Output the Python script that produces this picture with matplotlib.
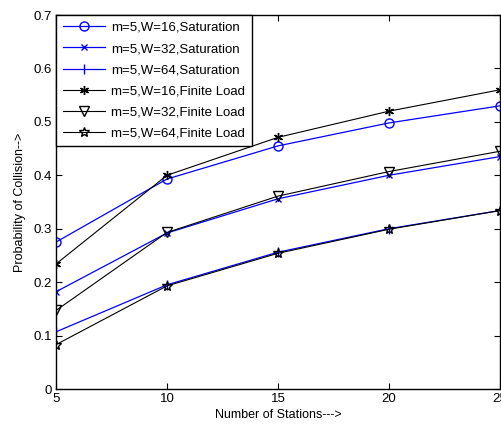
import matplotlib
matplotlib.use("Agg")
import matplotlib.pyplot as plt

plt.rcParams['font.family'] = ['Liberation Sans', 'DejaVu Sans']

stations = [5, 10, 15, 20, 25]
sat_w16 = [0.275, 0.393, 0.455, 0.498, 0.530]
sat_w32 = [0.182, 0.292, 0.356, 0.400, 0.435]
sat_w64 = [0.107, 0.195, 0.256, 0.300, 0.334]
fin_w16 = [0.234, 0.400, 0.471, 0.520, 0.560]
fin_w32 = [0.147, 0.293, 0.361, 0.407, 0.445]
fin_w64 = [0.083, 0.193, 0.254, 0.299, 0.334]

labels = ["m=5,W=16,Saturation", "m=5,W=32,Saturation", "m=5,W=64,Saturation",
          "m=5,W=16,Finite Load", "m=5,W=32,Finite Load", "m=5,W=64,Finite Load"]

blue = "#0000ff"
asterisk = (6, 2, 0)

fig = plt.figure(figsize=(5.01, 4.26), dpi=100)
ax = fig.add_axes([56 / 501, 1 - 389 / 426, 444 / 501, 374 / 426])

ax.plot(stations, sat_w16, color=blue, lw=0.9, marker="o", ms=6.5, mfc="none", mec=blue, label=labels[0])
ax.plot(stations, sat_w32, color=blue, lw=0.9, marker="x", ms=4, mec=blue, label=labels[1])
ax.plot(stations, sat_w64, color=blue, lw=0.9, marker="|", ms=6.5, mec=blue, label=labels[2])
ax.plot(stations, fin_w16, color="black", lw=0.8, marker=asterisk, ms=6.5, mec="black", label=labels[3])
ax.plot(stations, fin_w32, color="black", lw=0.8, marker="v", ms=7, mfc="none", mec="black", label=labels[4])
ax.plot(stations, fin_w64, color="black", lw=0.8, marker="*", ms=7, mfc="none", mec="black", label=labels[5])

ax.set_xlim(5, 25)
ax.set_ylim(0, 0.7)
ax.set_xticks([5, 10, 15, 20, 25])
ax.set_yticks([0, 0.1, 0.2, 0.3, 0.4, 0.5, 0.6, 0.7])
ax.set_yticklabels(["0", "0.1", "0.2", "0.3", "0.4", "0.5", "0.6", "0.7"])
ax.tick_params(direction="in", top=True, right=True, labelsize=9.5, length=4, width=0.8, pad=3)
for s in ax.spines.values():
    s.set_linewidth(1.0)

ax.set_xlabel("Number of Stations--->", fontsize=9, labelpad=3)
ax.set_ylabel("Probability of Collision-->", fontsize=9, labelpad=5)

leg = ax.legend(loc="upper left", borderaxespad=0, fontsize=9.5, fancybox=False,
                edgecolor="black", framealpha=1, handlelength=3.2, handletextpad=0.5,
                labelspacing=0.68, borderpad=0.5)
leg.get_frame().set_linewidth(1.0)

fig.savefig("out.png", dpi=100)
